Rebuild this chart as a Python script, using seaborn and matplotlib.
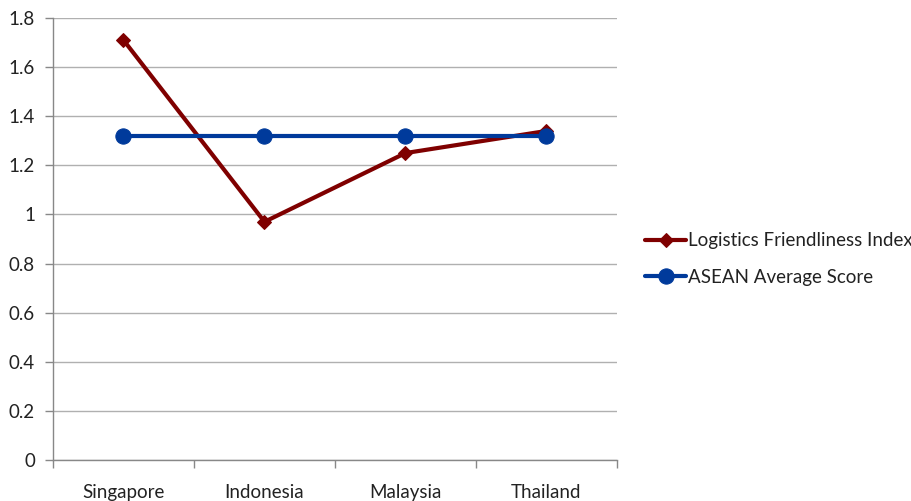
import matplotlib
matplotlib.use("Agg")
import matplotlib.pyplot as plt
import seaborn as sns
import pandas as pd
from matplotlib.ticker import FixedLocator, NullFormatter, FixedFormatter

countries = ["Singapore", "Indonesia", "Malaysia", "Thailand"]
lfi_values = [1.71, 0.97, 1.25, 1.34]
asean_avg = [1.32, 1.32, 1.32, 1.32]
series_names = ["Logistics Friendliness Index", "ASEAN Average Score"]
y_ticks = [0, 0.2, 0.4, 0.6, 0.8, 1, 1.2, 1.4, 1.6, 1.8]
y_tick_labels = ["0", "0.2", "0.4", "0.6", "0.8", "1", "1.2", "1.4", "1.6", "1.8"]

df = pd.DataFrame({
    "Country": countries * 2,
    "Score": lfi_values + asean_avg,
    "Series": [series_names[0]] * 4 + [series_names[1]] * 4,
})

sns.set_theme(style="white")
plt.rcParams["font.family"] = ["Lato", "DejaVu Sans"]
FS = 13.5

fig = plt.figure(figsize=(9.12, 5.01), dpi=100)
ax = fig.add_axes([53 / 912, 1 - 460 / 501, (617 - 53) / 912, (460 - 18) / 501])

palette = {series_names[0]: "#7f0000", series_names[1]: "#003a9b"}
markers = {series_names[0]: "D", series_names[1]: "o"}
sizes = {series_names[0]: 7, series_names[1]: 11}

for name in series_names:
    sub = df[df["Series"] == name]
    sns.lineplot(data=sub, x="Country", y="Score", ax=ax, color=palette[name],
                 marker=markers[name], markersize=sizes[name], linewidth=3,
                 markeredgecolor=palette[name], label=name, sort=False)

ax.set_xlim(-0.5, len(countries) - 0.5)
ax.set_ylim(0, 1.8)
ax.set_xlabel("")
ax.set_ylabel("")

# Category boundaries carry the tick marks, labels sit at category centres
ax.xaxis.set_major_locator(FixedLocator([i - 0.5 for i in range(len(countries) + 1)]))
ax.xaxis.set_major_formatter(NullFormatter())
ax.xaxis.set_minor_locator(FixedLocator(list(range(len(countries)))))
ax.xaxis.set_minor_formatter(FixedFormatter(countries))
ax.tick_params(axis="x", which="major", length=6, width=1, color="#888888", direction="out", bottom=True)
ax.tick_params(axis="x", which="minor", length=0, pad=17, labelsize=FS, labelcolor="#222222")

ax.set_yticks(y_ticks)
ax.set_yticklabels(y_tick_labels)
ax.tick_params(axis="y", length=6, width=1, color="#888888", direction="out", left=True,
               labelsize=FS, labelcolor="#222222", pad=7)

ax.yaxis.grid(True, color="#b0b0b0", linewidth=1)
ax.set_axisbelow(True)
for side in ["top", "right"]:
    ax.spines[side].set_visible(False)
for side in ["left", "bottom"]:
    ax.spines[side].set_color("#888888")
    ax.spines[side].set_linewidth(1)

leg = ax.legend(loc="center left", bbox_to_anchor=(645 / 912, 1 - 259 / 501),
                bbox_transform=fig.transFigure, frameon=False, borderpad=0, borderaxespad=0,
                fontsize=FS, handlelength=2.2, handletextpad=0.1, labelspacing=1.05)
for t in leg.get_texts():
    t.set_color("#222222")

fig.savefig("out.png", dpi=100)
